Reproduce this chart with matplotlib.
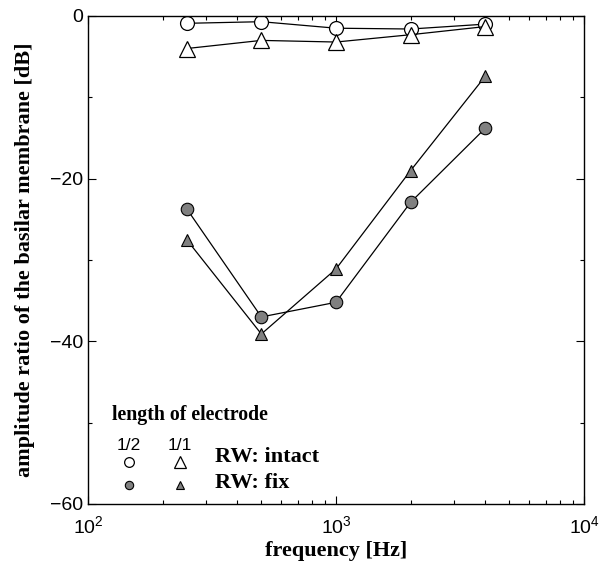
import matplotlib
matplotlib.use("Agg")
import matplotlib.pyplot as plt
from matplotlib.ticker import FixedLocator, NullFormatter, LogLocator

freq = [250, 500, 1000, 2000, 4000]
half_intact = [-0.9, -0.7, -1.5, -1.6, -1.0]
full_intact = [-4.0, -3.0, -3.2, -2.3, -1.3]
half_fix = [-23.7, -37.0, -35.2, -22.9, -13.8]
full_fix = [-27.5, -39.1, -31.1, -19.0, -7.4]

serif = ['Liberation Serif', 'DejaVu Serif']
sans = ['Liberation Sans', 'DejaVu Sans']

fig = plt.figure(figsize=(6.0, 5.68), dpi=100)
ax = fig.add_axes([88/600, 1-504/568, 496/600, 488/568])

gray = '#808080'
ax.plot(freq, half_intact, color='black', lw=0.9, marker='o', ms=10, mfc='white', mec='black', mew=0.9)
ax.plot(freq, full_intact, color='black', lw=0.9, marker='^', ms=11, mfc='white', mec='black', mew=0.9)
ax.plot(freq, half_fix, color='black', lw=0.9, marker='o', ms=9, mfc=gray, mec='black', mew=0.8)
ax.plot(freq, full_fix, color='black', lw=0.9, marker='^', ms=9, mfc=gray, mec='black', mew=0.8)

ax.set_xscale('log')
ax.set_xlim(100, 10000)
ax.set_ylim(-60, 0)
ax.yaxis.set_major_locator(FixedLocator([-60, -40, -20, 0]))
ax.yaxis.set_minor_locator(FixedLocator([-50, -30, -10]))
ax.xaxis.set_minor_locator(LogLocator(base=10, subs=range(2, 10)))
ax.xaxis.set_minor_formatter(NullFormatter())
ax.tick_params(which='both', direction='in', top=True, right=True)
ax.tick_params(which='major', length=6, width=0.8, labelsize=14)
ax.tick_params(axis='x', which='major', pad=8)
ax.tick_params(which='minor', length=3, width=0.8)
for lab in ax.get_xticklabels() + ax.get_yticklabels():
    lab.set_family(sans)
for s in ax.spines.values():
    s.set_linewidth(1.0)

ax.set_xlabel('frequency [Hz]', family=serif, fontweight='bold', fontsize=16)
ax.set_ylabel('amplitude ratio of the basilar membrane [dB]', family=serif, fontweight='bold', fontsize=16)
ax.xaxis.set_label_coords(0.5, -0.075)
ax.yaxis.set_label_coords(-0.107, 0.5)

def ac(px, py):
    return ((px - 88) / 496, (504 - py) / 488)

tr = ax.transAxes
ax.text(*ac(112, 415), 'length of electrode', transform=tr, family=serif, fontweight='bold', fontsize=14.3, va='center', ha='left')
ax.text(*ac(129, 446), '1/2', transform=tr, family=sans, fontsize=12.5, va='center', ha='center')
ax.text(*ac(180, 446), '1/1', transform=tr, family=sans, fontsize=12.5, va='center', ha='center')
ax.plot(*ac(129, 462), transform=tr, marker='o', ms=7, mfc='white', mec='black', mew=0.9, ls='none')
ax.plot(*ac(180, 462), transform=tr, marker='^', ms=8, mfc='white', mec='black', mew=0.9, ls='none')
ax.plot(*ac(129, 485), transform=tr, marker='o', ms=6, mfc=gray, mec='black', mew=0.8, ls='none')
ax.plot(*ac(180, 485), transform=tr, marker='^', ms=6, mfc=gray, mec='black', mew=0.8, ls='none')
ax.text(*ac(215, 457), 'RW: intact', transform=tr, family=serif, fontweight='bold', fontsize=16, va='center', ha='left')
ax.text(*ac(215, 483), 'RW: fix', transform=tr, family=serif, fontweight='bold', fontsize=16, va='center', ha='left')

fig.savefig('out.png', dpi=100)
